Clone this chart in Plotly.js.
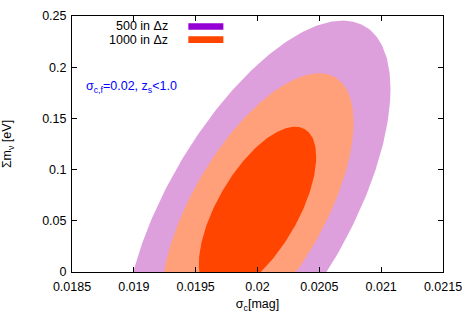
<!DOCTYPE html>
<html>
<head>
<meta charset="utf-8">
<script src="https://cdn.plot.ly/plotly-3.0.1.min.js"></script>
<style>html,body{margin:0;padding:0;background:#fff;}#chart{width:467px;height:327px;}</style>
</head>
<body>
<div id="chart"></div>
<script>
// Fisher-forecast ellipse parameters
const fiducial = [0.02, 0.06];          // [sigma_c, Sum m_nu]
const sigmas = [0.000313, 0.054];       // 1-sigma marginal errors
const correlation = 0.64;
const confidenceLevels = ['3σ', '2σ', '1σ'];
const deltaChi2 = [11.8, 6.17, 2.30];
const legendLabels = ['500 in Δz', '1000 in Δz'];
const xTicks = [0.0185, 0.019, 0.0195, 0.02, 0.0205, 0.021, 0.0215];
const xTickText = ['0.0185', '0.019', '0.0195', '0.02', '0.0205', '0.021', '0.0215'];
const yTicks = [0, 0.05, 0.1, 0.15, 0.2, 0.25];
const yTickText = ['0', '0.05', '0.1', '0.15', '0.2', '0.25'];

const fills = ['#dda0dd', '#ffa07a', '#ff4500'];
const legendColors = ['#9400d3', '#ff4500'];

function ellipse(d2) {
  const k = Math.sqrt(d2), xs = [], ys = [];
  const s = Math.sqrt(1 - correlation * correlation);
  for (let i = 0; i <= 360; i++) {
    const t = i * Math.PI / 180;
    xs.push(fiducial[0] + k * sigmas[0] * Math.cos(t));
    ys.push(fiducial[1] + k * sigmas[1] * (correlation * Math.cos(t) + s * Math.sin(t)));
  }
  return {xs, ys};
}

const traces = deltaChi2.map((d2, i) => {
  const e = ellipse(d2);
  return {
    x: e.xs, y: e.ys, type: 'scatter', mode: 'lines', fill: 'toself',
    fillcolor: fills[i], line: {width: 0, color: fills[i]},
    name: confidenceLevels[i], showlegend: false, hoverinfo: 'skip'
  };
});

const font = {family: '"Liberation Sans", Arial, Helvetica, sans-serif', size: 12.5, color: '#000'};

const legY = [0.959, 0.908];
const annotations = legendLabels.map((t, i) => ({
  xref: 'paper', yref: 'paper', x: 0.265, y: legY[i], xanchor: 'right', yanchor: 'middle',
  text: t, showarrow: false, font: font
}));
annotations.push({
  xref: 'paper', yref: 'paper', x: 0.031, y: 0.721, xanchor: 'left', yanchor: 'middle',
  text: 'σ<sub>c,f</sub>=0.02, z<sub>s</sub>&lt;1.0', showarrow: false,
  font: {family: font.family, size: 12.5, color: '#0000ff'}
});
const shapes = legendLabels.map((t, i) => ({
  type: 'rect', xref: 'paper', yref: 'paper', x0: 0.3136, x1: 0.408,
  y0: legY[i] - 0.013, y1: legY[i] + 0.013,
  fillcolor: legendColors[i], line: {width: 0}
}));

const axisCommon = {
  showgrid: false, zeroline: false, showline: true, linecolor: '#000', linewidth: 1,
  ticks: 'inside', ticklen: 5, tickcolor: '#000', mirror: 'allticks', tickfont: font
};

const layout = {
  width: 467, height: 327,
  margin: {l: 71.5, r: 24, t: 15.5, b: 55},
  paper_bgcolor: '#fff', plot_bgcolor: '#fff',
  font: font,
  showlegend: false,
  xaxis: Object.assign({}, axisCommon, {
    range: [0.0185, 0.0215], tickmode: 'array', tickvals: xTicks, ticktext: xTickText,
    ticklabelstandoff: 3,
    title: {text: 'σ<sub>c</sub>[mag]', font: font, standoff: 6}
  }),
  yaxis: Object.assign({}, axisCommon, {
    range: [0, 0.25], tickmode: 'array', tickvals: yTicks, ticktext: yTickText,
    ticklabelstandoff: 2,
    title: {text: 'Σm<sub>ν</sub> [eV]', font: font, standoff: 28}
  }),
  annotations: annotations,
  shapes: shapes
};

Plotly.newPlot('chart', traces, layout, {displayModeBar: false, staticPlot: true});
</script>
</body>
</html>
